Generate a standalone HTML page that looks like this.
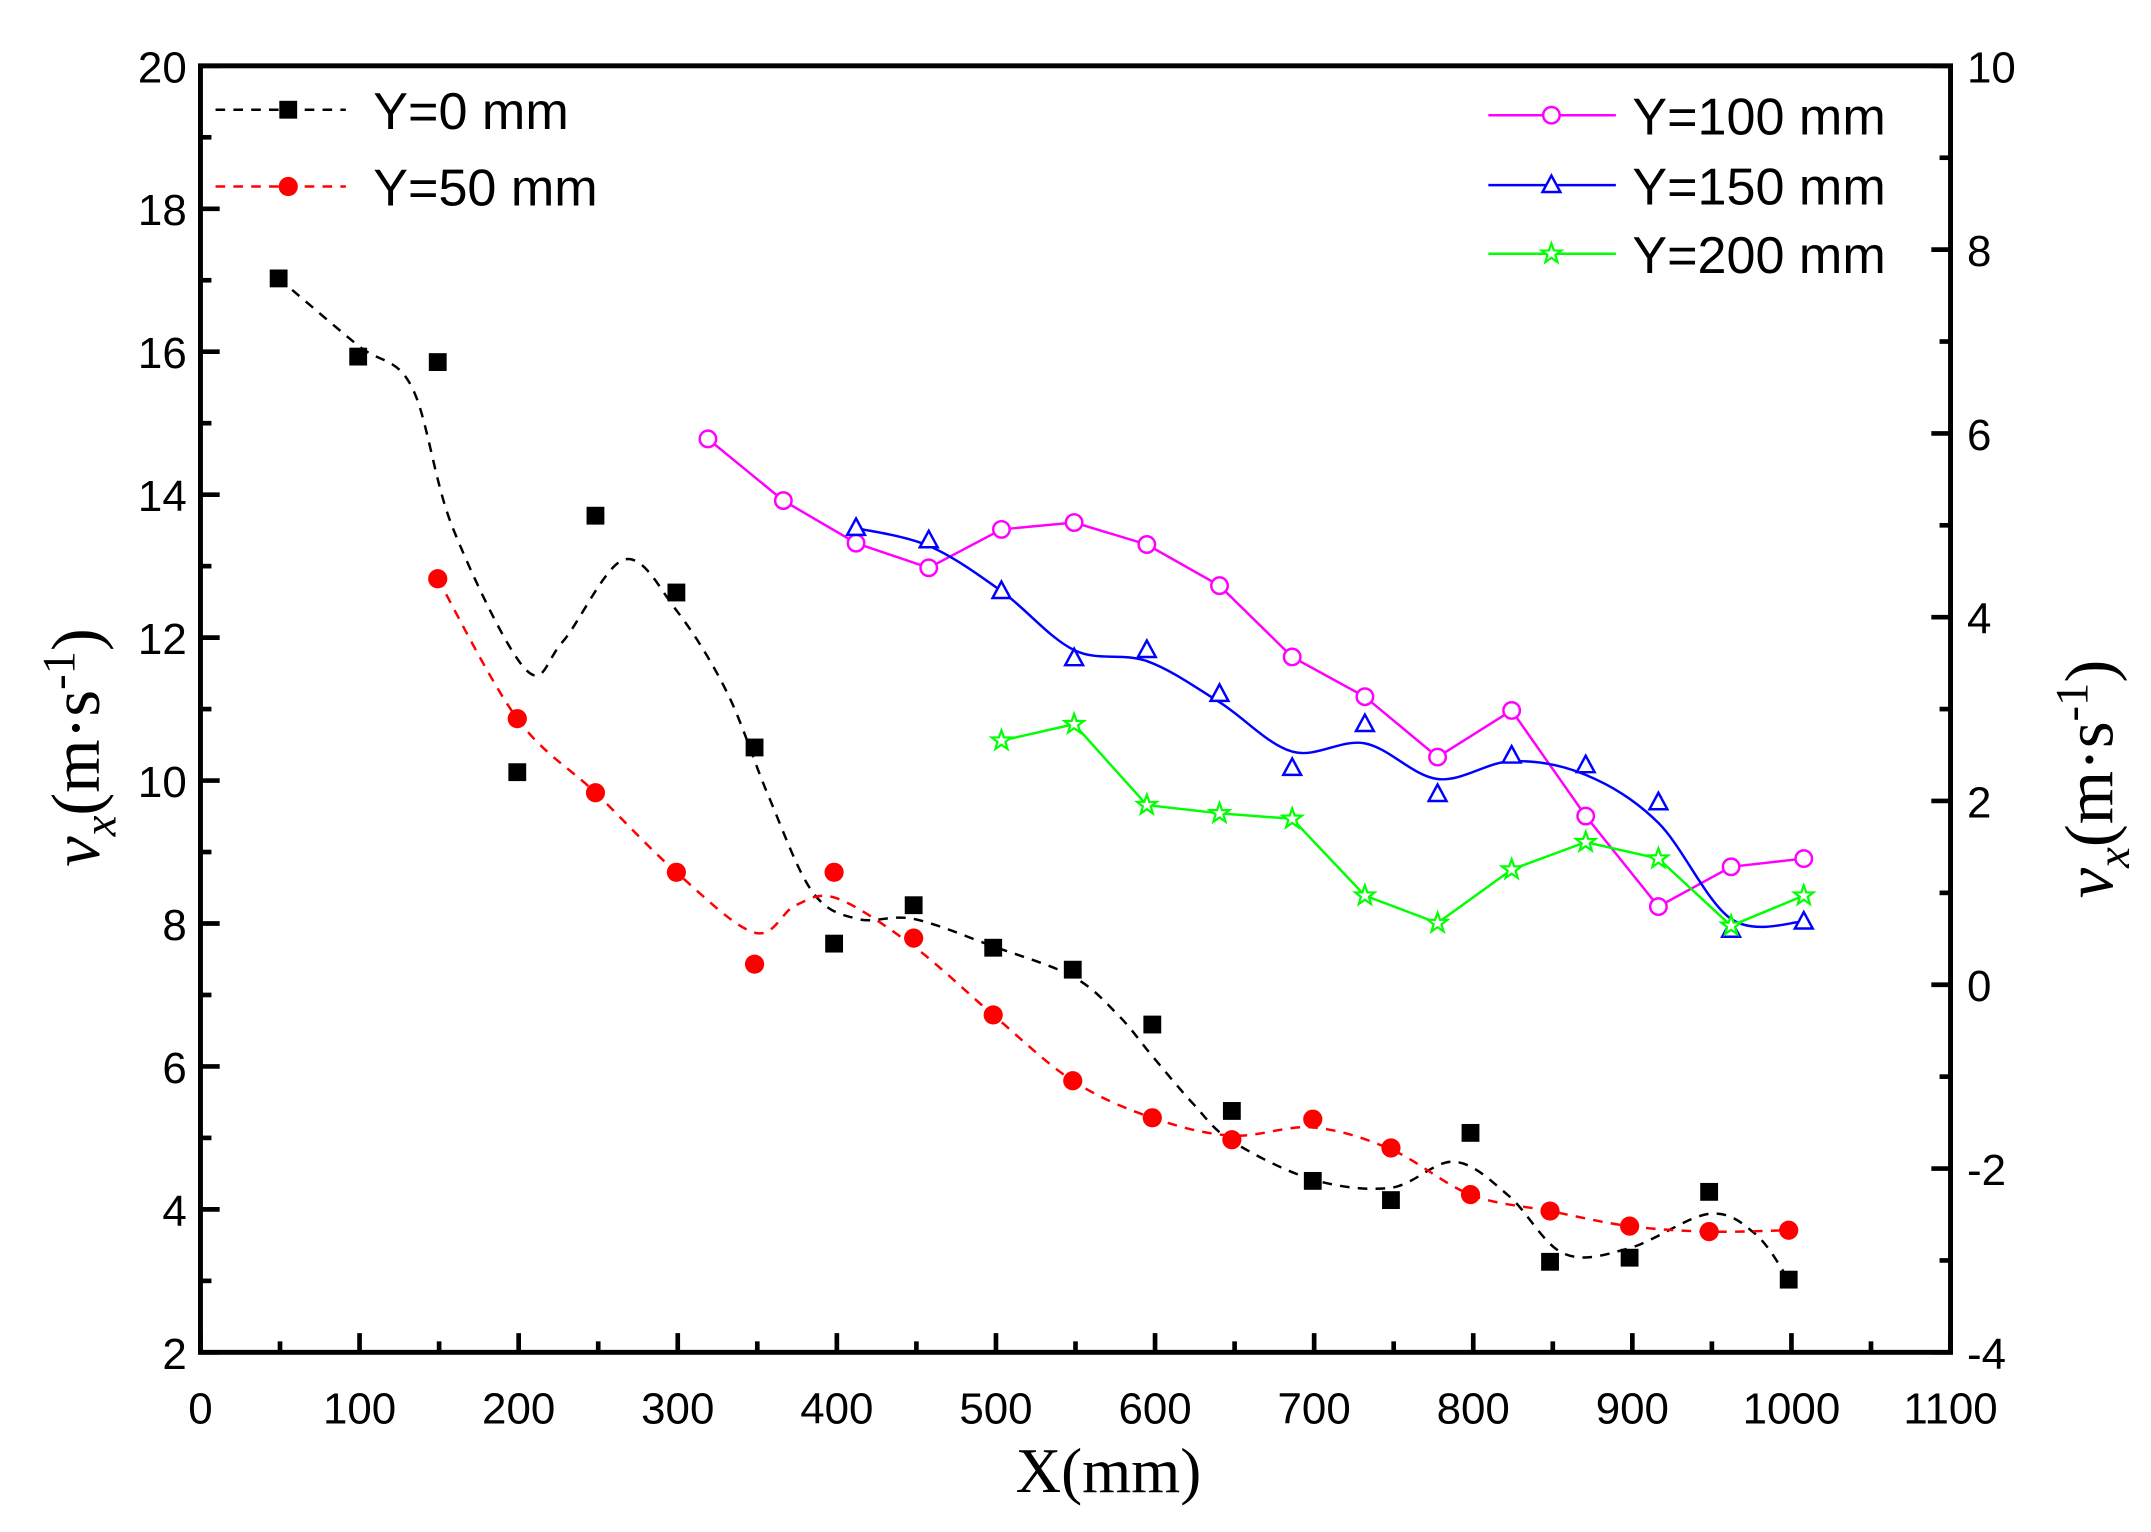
<!DOCTYPE html>
<html><head><meta charset="utf-8"><style>
html,body{margin:0;padding:0;background:#fff}
svg{display:block}
text{font-family:"Liberation Sans",sans-serif}
</style></head><body>
<svg id="s" width="2151" height="1532" viewBox="0 0 1568 1117" xmlns="http://www.w3.org/2000/svg">
<rect width="1568" height="1117" fill="#fff"/>
<g id="ticks" stroke="#000" stroke-width="3.4"></g>
<g id="series"></g>
<rect x="146" y="48" width="1276" height="938" fill="none" stroke="#000" stroke-width="3.6"/>
<g font-size="32" fill="#000" id="labels"></g>
<text x="808" y="1088" font-size="46" text-anchor="middle" style="font-family:'Liberation Serif',serif">X(mm)</text>
<text transform="translate(72,545) rotate(-90)" font-size="50" text-anchor="middle" style="font-family:'Liberation Serif',serif"><tspan font-style="italic">v</tspan><tspan font-style="italic" font-size="34" dy="12">x</tspan><tspan dy="-12">(m·s</tspan><tspan font-size="34" dy="-18">-1</tspan><tspan dy="18">)</tspan></text>
<text transform="translate(1540,568) rotate(-90)" font-size="50" text-anchor="middle" style="font-family:'Liberation Serif',serif"><tspan font-style="italic">v</tspan><tspan font-style="italic" font-size="34" dy="12">x</tspan><tspan dy="-12">(m·s</tspan><tspan font-size="34" dy="-18">-1</tspan><tspan dy="18">)</tspan></text>
<g id="legend" font-size="38"></g>
</svg>
<script>
var NS="http://www.w3.org/2000/svg";
function el(p,t,a,txt){var e=document.createElementNS(NS,t);for(var k in a)e.setAttribute(k,a[k]);if(txt!==undefined)e.textContent=txt;document.getElementById(p).appendChild(e);return e;}
var L=146,R=1422,T=48,B=986;
for(var v=0;v<=1100;v+=50){var x=L+(R-L)*v/1100;var len=v%100==0?14:8;el('ticks','line',{x1:x,y1:B,x2:x,y2:B-len});if(v%100==0)el('labels','text',{x:x,y:1038,'text-anchor':'middle'},v);}
for(var v=2;v<=20;v+=1){var y=B-(B-T)*(v-2)/18;var len=v%2==0?14:8;el('ticks','line',{x1:L,y1:y,x2:L+len,y2:y});if(v%2==0)el('labels','text',{x:136,y:y+12,'text-anchor':'end'},v);}
for(var v=-4;v<=10;v+=1){var y=B-(B-T)*(v+4)/14;var len=v%2==0?14:8;el('ticks','line',{x1:R,y1:y,x2:R-len,y2:y});if(v%2==0)el('labels','text',{x:1434,y:y+12,'text-anchor':'start'},v);}
function cr(p){var d="M"+p[0][0]+","+p[0][1];for(var i=0;i<p.length-1;i++){var p0=p[i-1]||p[i],p1=p[i],p2=p[i+1],p3=p[i+2]||p2;var c1=[p1[0]+(p2[0]-p0[0])/6,p1[1]+(p2[1]-p0[1])/6],c2=[p2[0]-(p3[0]-p1[0])/6,p2[1]-(p3[1]-p1[1])/6];d+="C"+c1+" "+c2+" "+p2;}return d;}
function poly(p){return "M"+p.map(function(a){return a.join(",")}).join("L");}
function sq(x,y,c){el('series','rect',{x:x-6.5,y:y-6.5,width:13,height:13,fill:c});}
function dot(x,y,c){el('series','circle',{cx:x,cy:y,r:7,fill:c});}
function oc(x,y,c){el('series','circle',{cx:x,cy:y,r:6,fill:'#fff',stroke:c,'stroke-width':1.8});}
function tri(x,y,c){el('series','path',{d:"M"+x+","+(y-7)+"L"+(x+6.5)+","+(y+5)+"L"+(x-6.5)+","+(y+5)+"Z",fill:'#fff',stroke:c,'stroke-width':1.8});}
function star(x,y,c){var d="";for(var i=0;i<10;i++){var r=i%2?3:7.5,a=-Math.PI/2+i*Math.PI/5;d+=(i?"L":"M")+(x+r*Math.cos(a)).toFixed(1)+","+(y+r*Math.sin(a)).toFixed(1);}el('series','path',{d:d+"Z",fill:'#fff',stroke:c,'stroke-width':1.6});}
var bc=[[203,203],[261,252],[300,282],[330,385],[383,488],[410,468],[455,408],[493,445],[530,505],[560,580],[592,650],[625,670],[666,670],[724,690],[782,712],[815,740],[840,770],[870,805],[898,832],[957,860],[1014,866],[1060,847],[1100,872],[1140,914],[1188,910],[1246,885],[1280,900],[1304,933]];
el('series','path',{d:cr(bc),fill:'none',stroke:'#000','stroke-width':1.8,'stroke-dasharray':'7,6'});
var bp=[[203,203],[261,260],[319,264],[377,563],[434,376],[493,432],[550,545],[608,688],[666,660],[724,691],[782,707],[840,747],[898,810],[957,861],[1014,875],[1072,826],[1130,920],[1188,917],[1246,869],[1304,933]];
var rc=[[319,422],[377,524],[434,578],[493,636],[550,680],[580,660],[610,655],[666,690],[724,740],[782,788],[840,815],[898,828],[957,822],[1014,838],[1072,871],[1130,883],[1188,894],[1246,898],[1304,897]];
el('series','path',{d:cr(rc),fill:'none',stroke:'#f00','stroke-width':1.8,'stroke-dasharray':'7,6'});
var rp=[[319,422],[377,524],[434,578],[493,636],[550,703],[608,636],[666,684],[724,740],[782,788],[840,815],[898,831],[957,816],[1014,837],[1072,871],[1130,883],[1188,894],[1246,898],[1304,897]];
var mp=[[516,320],[571,365],[624,396],[677,414],[730,386],[783,381],[836,397],[889,427],[942,479],[995,508],[1048,552],[1102,518],[1156,595],[1209,661],[1262,632],[1315,626]];
el('series','path',{d:poly(mp),fill:'none',stroke:'#f0f','stroke-width':1.8});
var bl=[[624,385],[677,398],[730,431],[783,474],[836,482],[889,512],[942,548],[995,542],[1048,568],[1102,555],[1156,565],[1209,600],[1262,670],[1315,672]];
el('series','path',{d:cr(bl),fill:'none',stroke:'#00f','stroke-width':1.8});
var blp=[[624,385],[677,394],[730,431],[783,480],[836,474],[889,506],[942,560],[995,528],[1048,579],[1102,551],[1156,558],[1209,585],[1262,678],[1315,672]];
var gp=[[730,540],[783,528],[836,587],[889,593],[942,597],[995,653],[1048,673],[1102,634],[1156,614],[1209,626],[1262,675],[1315,653]];
el('series','path',{d:poly(gp),fill:'none',stroke:'#0f0','stroke-width':1.8});
bp.forEach(function(p){sq(p[0],p[1],'#000')});
rp.forEach(function(p){dot(p[0],p[1],'#f00')});
mp.forEach(function(p){oc(p[0],p[1],'#f0f')});
blp.forEach(function(p){tri(p[0],p[1],'#00f')});
gp.forEach(function(p){star(p[0],p[1],'#0f0')});
el('series','line',{x1:157,y1:80,x2:252,y2:80,stroke:'#000','stroke-width':1.8,'stroke-dasharray':'7,6'});sq(210,80,'#000');
el('legend','text',{x:272,y:94},'Y=0 mm');
el('series','line',{x1:157,y1:136,x2:252,y2:136,stroke:'#f00','stroke-width':1.8,'stroke-dasharray':'7,6'});dot(210,136,'#f00');
el('legend','text',{x:272,y:150},'Y=50 mm');
el('series','line',{x1:1085,y1:84,x2:1178,y2:84,stroke:'#f0f','stroke-width':1.8});oc(1131,84,'#f0f');
el('legend','text',{x:1190,y:98},'Y=100 mm');
el('series','line',{x1:1085,y1:135,x2:1178,y2:135,stroke:'#00f','stroke-width':1.8});tri(1131,135,'#00f');
el('legend','text',{x:1190,y:149},'Y=150 mm');
el('series','line',{x1:1085,y1:185,x2:1178,y2:185,stroke:'#0f0','stroke-width':1.8});star(1131,185,'#0f0');
el('legend','text',{x:1190,y:199},'Y=200 mm');
</script>
</body></html>
